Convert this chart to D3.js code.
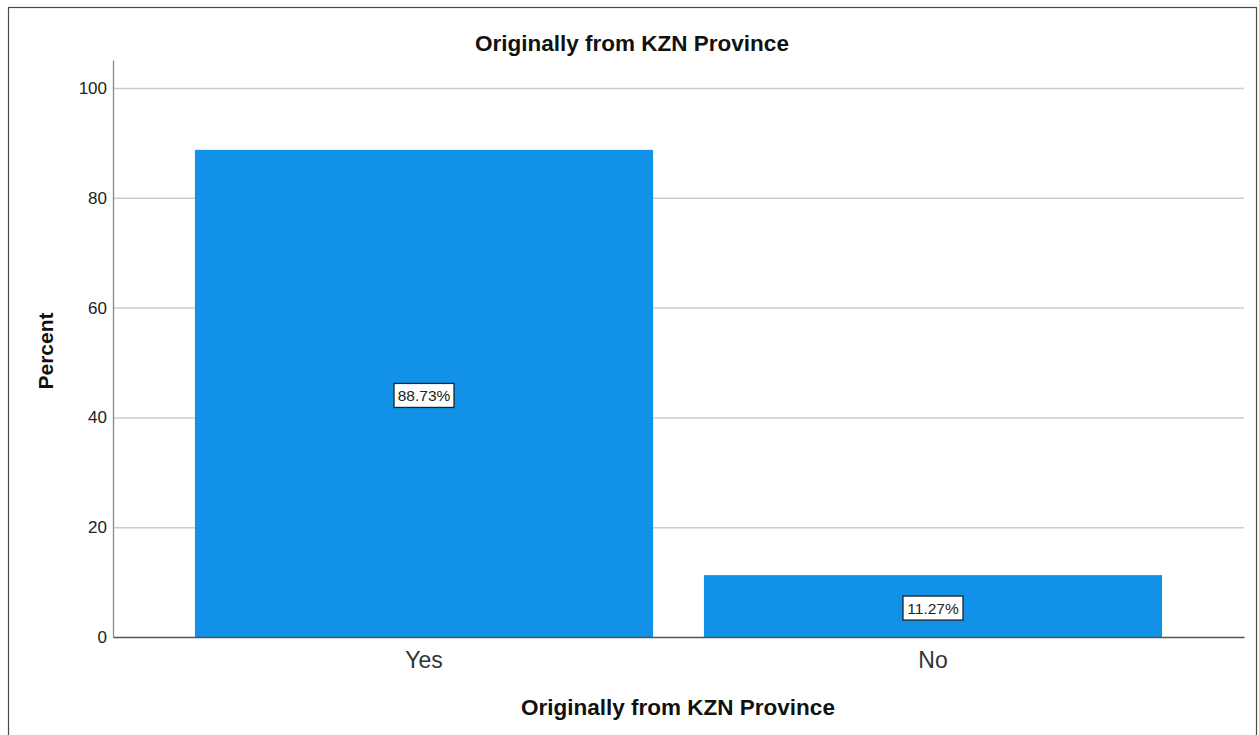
<!DOCTYPE html>
<html><head><meta charset="utf-8">
<script src="https://cdn.jsdelivr.net/npm/d3@7"></script>
<style>body{margin:0;background:#fff}svg{display:block}</style>
</head><body>
<script>
const categories = ["Yes", "No"];
const percents = [88.73, 11.27];
const valueLabels = ["88.73%", "11.27%"];
const yTicks = [0, 20, 40, 60, 80, 100];
const chartTitle = "Originally from KZN Province";
const xTitle = "Originally from KZN Province";
const yTitle = "Percent";

const W = 1259, H = 735;
const FONT = "Arial, 'Liberation Sans', sans-serif";
const svg = d3.select("body").append("svg").attr("width", W).attr("height", H);
svg.append("rect").attr("x", 8.5).attr("y", 7.5).attr("width", 1248).attr("height", 740)
  .attr("fill", "#fff").attr("stroke", "#4a4a4a").attr("stroke-width", 1.2);

const x0 = 113, x1 = 1244, yTop = 60, yBottom = 637;
const x = d3.scaleBand().domain(categories).range([x0, x1]).paddingInner(0.1).paddingOuter(0.161);
const y = d3.scaleLinear().domain([0, 105.1]).range([yBottom, yTop]);

// gridlines
svg.append("g").selectAll("line").data(yTicks.filter(d => d > 0)).join("line")
  .attr("x1", x0).attr("x2", x1).attr("y1", d => y(d) + 0.5).attr("y2", d => y(d) + 0.5)
  .attr("stroke", "#cccccc").attr("stroke-width", 1.5);

// bars
svg.append("g").selectAll("rect").data(categories).join("rect")
  .attr("x", d => x(d)).attr("width", x.bandwidth())
  .attr("y", (d, i) => y(percents[i])).attr("height", (d, i) => y(0) - y(percents[i]))
  .attr("fill", "#1192e8");

// y axis
const yAxis = d3.axisLeft(y).tickValues(yTicks).tickSize(0).tickPadding(6);
const gy = svg.append("g").attr("transform", `translate(${x0},0)`).call(yAxis);
gy.select(".domain").attr("stroke", "#888").attr("stroke-width", 1.3);
gy.selectAll("text").attr("font-family", FONT).attr("font-size", 17).attr("fill", "#222");

// x axis
const xAxis = d3.axisBottom(x).tickSize(0).tickPadding(15);
const gx = svg.append("g").attr("transform", `translate(0,${yBottom})`).call(xAxis);
gx.select(".domain").attr("stroke", "#555").attr("stroke-width", 1.3);
gx.selectAll("text").attr("font-family", FONT).attr("font-size", 23).attr("fill", "#333");

// value labels
const lbl = svg.append("g").selectAll("g").data(categories).join("g")
  .attr("transform", (d, i) => `translate(${x(d) + x.bandwidth() / 2},${(y(percents[i]) + y(0)) / 2 + 2})`);
lbl.append("rect").attr("x", -30).attr("y", -12).attr("width", 60).attr("height", 24)
  .attr("fill", "#fff").attr("stroke", "#222").attr("stroke-width", 1.3);
lbl.append("text").text((d, i) => valueLabels[i]).attr("text-anchor", "middle").attr("dy", "0.36em")
  .attr("font-family", FONT).attr("font-size", 15.5).attr("fill", "#222");

// titles
svg.append("text").text(chartTitle).attr("x", 632).attr("y", 51).attr("text-anchor", "middle")
  .attr("font-family", FONT).attr("font-size", 22.5).attr("font-weight", "bold").attr("fill", "#111");
svg.append("text").text(xTitle).attr("x", 678).attr("y", 715).attr("text-anchor", "middle")
  .attr("font-family", FONT).attr("font-size", 22.5).attr("font-weight", "bold").attr("fill", "#111");
svg.append("text").text(yTitle).attr("transform", "translate(53,351) rotate(-90)").attr("text-anchor", "middle")
  .attr("font-family", FONT).attr("font-size", 21).attr("font-weight", "bold").attr("fill", "#111");
</script>
</body></html>
